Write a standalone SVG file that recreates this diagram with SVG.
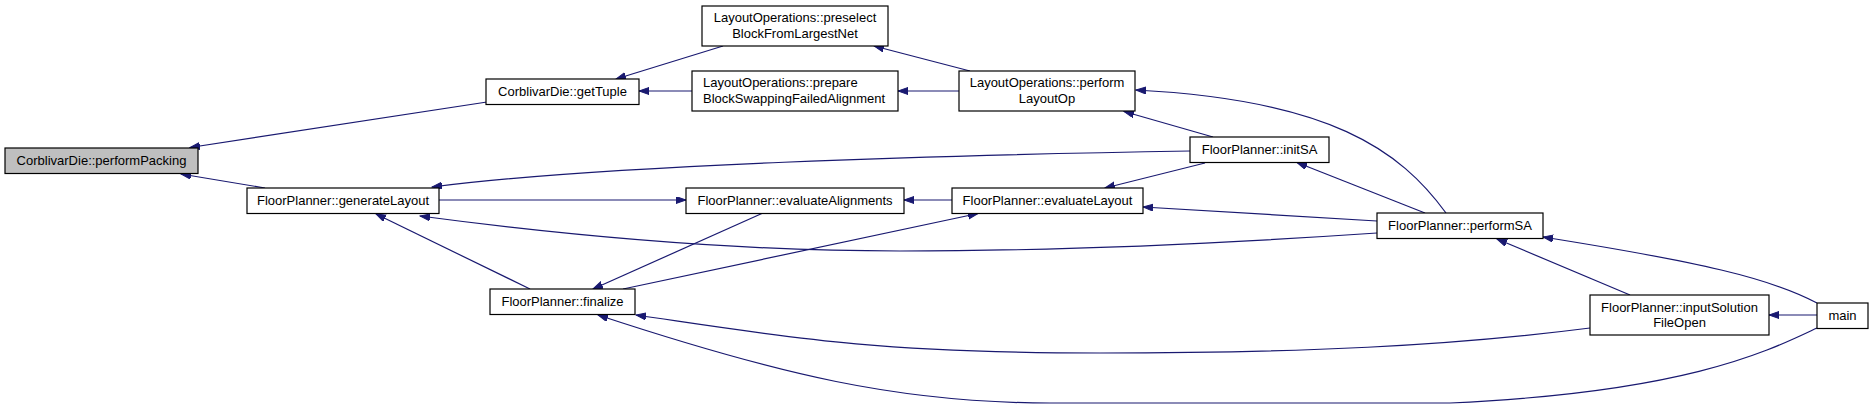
<svg xmlns="http://www.w3.org/2000/svg" width="1873" height="409" viewBox="0 0 1873 409">
<style>
.n rect{fill:#fff;stroke:#000;stroke-width:1.2}
.n text{font-family:"Liberation Sans",Arial,sans-serif;font-size:13px;fill:#000;text-anchor:middle}
.e path{fill:none;stroke:#191970;stroke-width:1.2;marker-end:url(#ah)}
</style>
<defs>
<marker id="ah" markerUnits="userSpaceOnUse" markerWidth="11" markerHeight="8" refX="10" refY="3.5" orient="auto">
<path d="M0,0 L10,3.5 L0,7 z" fill="#191970" stroke="#191970" stroke-width="1"/>
</marker>
</defs>
<rect width="1873" height="409" fill="#fff"/>
<g id="edges" class="e">
<path d="M487,102 L190,147.5"/>
<path d="M265,188 L181,174"/>
<path d="M723,46 L616,79"/>
<path d="M692,91 L639,91"/>
<path d="M970,71 L874,46"/>
<path d="M959,91 L898,91"/>
<path d="M1213,137 L1124,111.5"/>
<path d="M1446,213 C1400,150 1330,100 1136,90"/>
<path d="M1190,151 C950,155 600,165 432,187"/>
<path d="M439,200 L686,200"/>
<path d="M1377,233 C1200,245 1050,251 900,251 C750,251 600,240 420,216"/>
<path d="M530,289 L376,214"/>
<path d="M763,213 L593,289"/>
<path d="M952,200 L904,200"/>
<path d="M623,289 L978,213.5"/>
<path d="M1205,163 L1105,188"/>
<path d="M1425,213 L1297,162.5"/>
<path d="M1377,221 L1143,207"/>
<path d="M1630,295 L1497,239"/>
<path d="M1817,303 C1770,278 1700,262 1543,237"/>
<path d="M1817,315 L1769,315"/>
<path d="M1590,328 C1450,346 1300,353 1100,353 C870,353 780,336 636,315"/>
<path d="M1817,328 C1770,350 1690,392 1450,403 L1050,403 C900,403 780,375 598,315"/>
</g>
<g id="performPacking" class="n"><rect x="5" y="148" width="193" height="25.5" style="fill:#bfbfbf"/><text x="101.5" y="164.5">CorblivarDie::performPacking</text></g>
<g id="getTuple" class="n"><rect x="486" y="79" width="153" height="25.5"/><text x="562.5" y="95.5">CorblivarDie::getTuple</text></g>
<g id="preselect" class="n"><rect x="702" y="6" width="186" height="40"/><text x="795" y="22">LayoutOperations::preselect</text><text x="795" y="37.5">BlockFromLargestNet</text></g>
<g id="prepare" class="n"><rect x="692" y="71" width="206" height="40"/><text x="703" y="87" style="text-anchor:start">LayoutOperations::prepare</text><text x="703" y="102.5" style="text-anchor:start">BlockSwappingFailedAlignment</text></g>
<g id="performLayoutOp" class="n"><rect x="959" y="71" width="176" height="40"/><text x="1047" y="87">LayoutOperations::perform</text><text x="1047" y="102.5">LayoutOp</text></g>
<g id="generateLayout" class="n"><rect x="247" y="188" width="192" height="25.5"/><text x="343" y="204.5">FloorPlanner::generateLayout</text></g>
<g id="evaluateAlignments" class="n"><rect x="686" y="188" width="218" height="25.5"/><text x="795" y="204.5">FloorPlanner::evaluateAlignments</text></g>
<g id="evaluateLayout" class="n"><rect x="952" y="188" width="191" height="25.5"/><text x="1047.5" y="204.5">FloorPlanner::evaluateLayout</text></g>
<g id="initSA" class="n"><rect x="1190" y="137" width="139" height="25.5"/><text x="1259.5" y="154">FloorPlanner::initSA</text></g>
<g id="finalize" class="n"><rect x="490" y="289" width="145" height="25.5"/><text x="562.5" y="305.5">FloorPlanner::finalize</text></g>
<g id="performSA" class="n"><rect x="1377" y="213" width="166" height="25.5"/><text x="1460" y="230">FloorPlanner::performSA</text></g>
<g id="inputSolution" class="n"><rect x="1590" y="295" width="179" height="40"/><text x="1679.5" y="311.5">FloorPlanner::inputSolution</text><text x="1679.5" y="326.5">FileOpen</text></g>
<g id="main" class="n"><rect x="1817" y="303" width="51" height="25.5"/><text x="1842.5" y="320">main</text></g>
</svg>
